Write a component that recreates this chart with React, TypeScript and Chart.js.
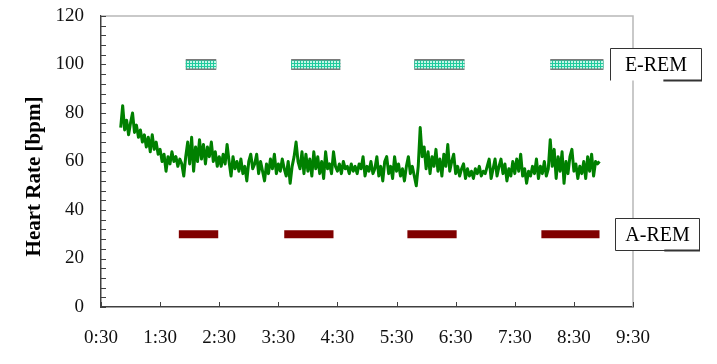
import React, { useEffect, useRef } from "react";
import { Chart, registerables } from "chart.js";

Chart.register(...registerables);

// ---- data ----
const X_TICKS = [30, 90, 150, 210, 270, 330, 390, 450, 510, 570]; // minutes
const Y_TICKS = [0, 20, 40, 60, 80, 100, 120];
const Y_MINOR_STEP = 4;
const Y_TITLE = "Heart Rate [bpm]";

const HR_START = 50; // minutes (0:50)
const HR_STEP = 2; // minutes between samples
const HR_VALUES = [
  74, 83, 73, 77, 71, 76, 80, 72, 75, 70,
  73, 68, 71, 66, 70, 64, 71, 65, 68, 63,
  65, 60, 63, 56, 62, 59, 64, 60, 62, 58,
  61, 59, 54, 62, 68, 59, 70, 56, 66, 60,
  69, 61, 67, 59, 66, 62, 68, 60, 64, 58,
  62, 58, 63, 59, 67, 60, 54, 62, 57, 60,
  56, 61, 55, 58, 52, 60, 63, 57, 59, 63,
  55, 60, 56, 52, 59, 55, 61, 57, 63, 55,
  59, 56, 61, 57, 54, 60, 51, 58, 62, 68,
  60, 57, 64, 55, 63, 56, 61, 54, 64, 57,
  62, 55, 60, 53, 64, 57, 59, 55, 64, 58,
  56, 59, 55, 60, 57, 58, 55, 59, 56, 58,
  55, 59, 57, 62, 54, 58, 56, 60, 55, 57,
  62, 54, 58, 52, 60, 62, 55, 58, 53, 62,
  56, 59, 54, 57, 52, 58, 62, 55, 58, 54,
  50, 58, 74, 62, 66, 57, 64, 55, 62, 58,
  65, 56, 61, 54, 63, 58, 67, 56, 60, 63,
  55, 58, 54, 57, 59, 53, 57, 54, 56, 53,
  57, 55, 58, 54, 56, 55, 58, 61, 53, 57,
  61, 54, 58, 61, 55, 59, 52, 57, 54, 60,
  55, 61, 56, 63, 54, 57, 51, 56, 54, 58,
  55, 61, 53, 58, 55, 60, 54, 57, 69, 58,
  65, 53, 62, 56, 64, 51, 60, 55, 62, 65,
  56, 59, 53, 58, 55, 60, 53, 62, 56, 63,
  54, 60, 59, 60,
];

const E_REM_LABEL = "E-REM";
const E_REM_LEVEL = 100;
const E_REM_PERIODS: [number, number][] = [
  [116, 147],
  [223, 273],
  [348, 399],
  [486, 540],
];

const A_REM_LABEL = "A-REM";
const A_REM_LEVEL = 30;
const A_REM_PERIODS: [number, number][] = [
  [109, 149],
  [216, 266],
  [341, 391],
  [477, 536],
];

const fmtTime = (m: number) =>
  `${Math.floor(m / 60)}:${String(m % 60).padStart(2, "0")}`;

const SERIF = '"Liberation Serif", "Times New Roman", serif';

function makeGridPattern(ctx: CanvasRenderingContext2D) {
  const c = document.createElement("canvas");
  c.width = 3;
  c.height = 3;
  const g = c.getContext("2d")!;
  g.fillStyle = "#c4f6e8";
  g.fillRect(0, 0, 3, 3);
  g.fillStyle = "#1fcb9c";
  g.fillRect(0, 0, 1, 3);
  g.fillRect(0, 0, 3, 1);
  return ctx.createPattern(c, "repeat")!;
}

const decorPlugin = {
  id: "decor",
  beforeDatasetsDraw(chart: any) {
    const { ctx, chartArea: a } = chart;
    ctx.save();
    ctx.strokeStyle = "#b8b8b8";
    ctx.lineWidth = 1.5;
    ctx.beginPath();
    ctx.moveTo(a.left, a.top);
    ctx.lineTo(a.right, a.top);
    ctx.lineTo(a.right, a.bottom);
    ctx.stroke();
    ctx.restore();
  },
  afterDraw(chart: any) {
    const { ctx, chartArea: a, scales } = chart;
    const x = scales.x;
    const y = scales.y;
    ctx.save();
    // inner tick marks
    ctx.strokeStyle = "#404040";
    ctx.lineWidth = 1;
    ctx.beginPath();
    for (let v = Y_TICKS[0]; v <= Y_TICKS[Y_TICKS.length - 1]; v += Y_MINOR_STEP) {
      const py = Math.round(y.getPixelForValue(v)) + 0.5;
      ctx.moveTo(a.left, py);
      ctx.lineTo(a.left + 5, py);
    }
    for (const t of X_TICKS) {
      const px = Math.round(x.getPixelForValue(t)) + 0.5;
      ctx.moveTo(px, a.bottom);
      ctx.lineTo(px, a.bottom - 5);
    }
    ctx.stroke();

    // y title
    ctx.save();
    ctx.translate(35, (a.top + a.bottom) / 2 + 15);
    ctx.rotate(-Math.PI / 2);
    ctx.font = `bold 21px ${SERIF}`;
    ctx.fillStyle = "#000";
    ctx.textAlign = "center";
    ctx.textBaseline = "middle";
    ctx.fillText(Y_TITLE, 0, 0);
    ctx.restore();

    // legend boxes
    const drawBox = (label: string, cy: number, left: number, right: number, h: number, partialBottom: boolean) => {
      const top = Math.round(cy - h / 2) + 0.5;
      const bottom = top + h;
      ctx.fillStyle = "#fff";
      ctx.fillRect(left, top, right - left, h);
      ctx.strokeStyle = "#333";
      ctx.lineWidth = 1;
      ctx.beginPath();
      ctx.moveTo(left + 0.5, bottom);
      ctx.lineTo(left + 0.5, top);
      ctx.lineTo(right - 0.5, top);
      ctx.lineTo(right - 0.5, bottom);
      if (!partialBottom) ctx.lineTo(left + 0.5, bottom);
      ctx.stroke();
      ctx.lineWidth = 2;
      ctx.beginPath();
      ctx.moveTo(left + (right - left) * 0.58, bottom);
      ctx.lineTo(right, bottom);
      ctx.stroke();
      ctx.font = `20px ${SERIF}`;
      ctx.fillStyle = "#000";
      ctx.textAlign = "center";
      ctx.textBaseline = "middle";
      ctx.fillText(label, (left + right) / 2, cy + 1);
    };
    drawBox(E_REM_LABEL, y.getPixelForValue(E_REM_LEVEL), a.right - 23, a.right + 69, 32, true);
    drawBox(A_REM_LABEL, y.getPixelForValue(A_REM_LEVEL), a.right - 18, a.right + 67, 32, false);
    ctx.restore();
  },
};

export default function App() {
  const ref = useRef<HTMLCanvasElement>(null);

  useEffect(() => {
    const canvas = ref.current!;
    const ctx = canvas.getContext("2d")!;
    const pattern = makeGridPattern(ctx);

    const hrData = HR_VALUES.map((v, i) => ({ x: HR_START + i * HR_STEP, y: v }));

    const eOuter = E_REM_PERIODS.map(([s, e]) => ({
      type: "line" as const,
      data: [{ x: s, y: E_REM_LEVEL }, { x: e, y: E_REM_LEVEL }],
      borderColor: "#7a7a7a",
      borderWidth: 11,
      borderCapStyle: "butt" as const,
      pointRadius: 0,
      order: 3,
    }));
    const eInner = E_REM_PERIODS.map(([s, e]) => ({
      type: "line" as const,
      data: [{ x: s, y: E_REM_LEVEL }, { x: e, y: E_REM_LEVEL }],
      borderColor: pattern as any,
      borderWidth: 8,
      borderCapStyle: "butt" as const,
      pointRadius: 0,
      order: 2,
    }));
    const aBars = A_REM_PERIODS.map(([s, e]) => ({
      type: "line" as const,
      data: [{ x: s, y: A_REM_LEVEL }, { x: e, y: A_REM_LEVEL }],
      borderColor: "#800000",
      borderWidth: 8,
      borderCapStyle: "butt" as const,
      pointRadius: 0,
      order: 2,
    }));

    const chart = new Chart(canvas, {
      type: "line",
      data: {
        datasets: [
          {
            data: hrData,
            borderColor: "#008000",
            borderWidth: 3,
            borderJoinStyle: "round",
            pointRadius: 0,
            tension: 0,
            order: 1,
          },
          ...eOuter,
          ...eInner,
          ...aBars,
        ] as any,
      },
      options: {
        animation: false,
        responsive: false,
        devicePixelRatio: 1,
        layout: { padding: { left: 0, top: 16, right: 84, bottom: 0 } },
        plugins: {
          legend: { display: false },
          tooltip: { enabled: false },
        },
        scales: {
          x: {
            type: "linear",
            min: X_TICKS[0],
            max: X_TICKS[X_TICKS.length - 1],
            afterBuildTicks: (s: any) => {
              s.ticks = X_TICKS.map((v) => ({ value: v }));
            },
            afterFit: (s: any) => {
              s.height = 57;
              s.paddingLeft = 0;
              s.paddingRight = 0;
              s.paddingTop = 0;
              s.paddingBottom = 0;
            },
            grid: { display: false, drawTicks: false },
            border: { display: true, color: "#404040", width: 1.5 },
            ticks: {
              autoSkip: false,
              maxRotation: 0,
              padding: 20,
              color: "#111",
              font: { family: SERIF, size: 19 },
              callback: (v: any) => fmtTime(Number(v)),
            },
          },
          y: {
            type: "linear",
            min: Y_TICKS[0],
            max: Y_TICKS[Y_TICKS.length - 1],
            afterBuildTicks: (s: any) => {
              s.ticks = Y_TICKS.map((v) => ({ value: v }));
            },
            afterFit: (s: any) => {
              s.width = 101;
              s.paddingLeft = 0;
              s.paddingRight = 0;
              s.paddingTop = 0;
              s.paddingBottom = 0;
            },
            grid: { display: false, drawTicks: false },
            border: { display: true, color: "#404040", width: 1.5 },
            ticks: {
              autoSkip: false,
              padding: 17,
              color: "#111",
              font: { family: SERIF, size: 19 },
            },
          },
        },
      },
      plugins: [decorPlugin],
    });
    return () => chart.destroy();
  }, []);

  return (
    <div style={{ position: "absolute", left: 0, top: 0, width: 717, height: 364 }}>
      <canvas ref={ref} width={717} height={364} style={{ display: "block" }} />
    </div>
  );
}
